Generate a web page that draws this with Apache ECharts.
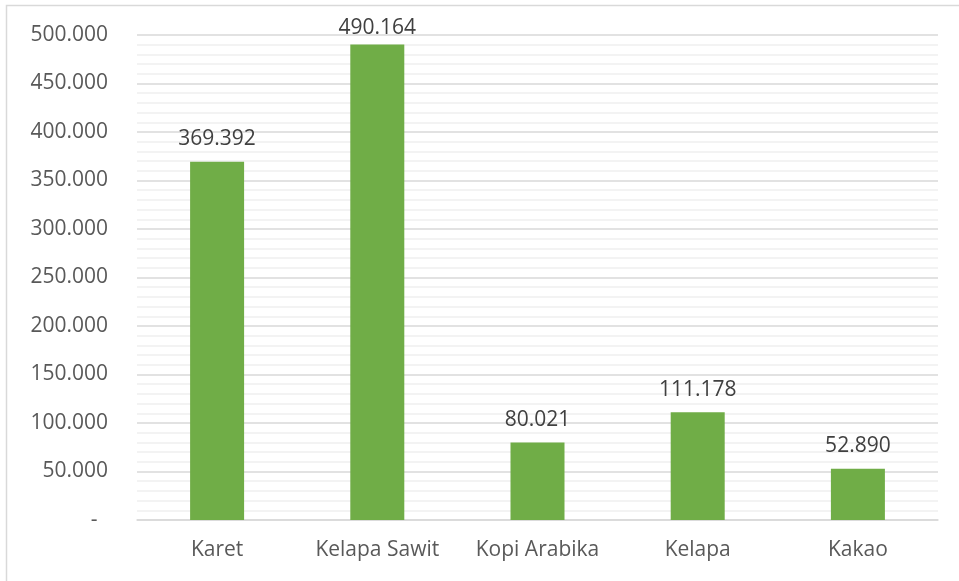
<!DOCTYPE html>
<html><head><meta charset="utf-8">
<script src="https://cdn.jsdelivr.net/npm/echarts@6/dist/echarts.min.js"></script>
<style>html,body{margin:0;padding:0;background:#fff;}#c{width:959px;height:581px;}</style>
</head><body><div id="c"></div>
<script>
const categories = ['Karet', 'Kelapa Sawit', 'Kopi Arabika', 'Kelapa', 'Kakao'];
const values = [369392, 490164, 80021, 111178, 52890];
const yTicks = [0, 50000, 100000, 150000, 200000, 250000, 300000, 350000, 400000, 450000, 500000];

function fmt(v) {
  if (v === 0) return '-\u2002';
  return String(Math.round(v)).replace(/\B(?=(\d{3})+(?!\d))/g, '.');
}
const yMax = yTicks[yTicks.length - 1];
const chart = echarts.init(document.getElementById('c'));
const font = "'Open Sans', 'Noto Sans', sans-serif";
// labels that would leave the plot area sit closer to their bar (as in the source)
const barData = values.map(v => v > yMax * 0.95 ? { value: v, label: { distance: 6 } } : v);
chart.setOption({
  animation: false,
  graphic: [{
    type: 'rect', shape: { x: 6.5, y: 5.5, width: 960, height: 600 },
    style: { fill: 'none', stroke: '#d9d9d9', lineWidth: 1.5 }, silent: true, z: -1
  }],
  grid: { left: 137, right: 21, top: 35, bottom: 61 },
  xAxis: {
    type: 'category', data: categories,
    axisLine: { lineStyle: { color: '#d9d9d9', width: 1.5 } },
    axisTick: { show: false },
    axisLabel: { interval: 0, hideOverlap: false, color: '#595959', fontSize: 21, fontFamily: font, margin: 20 }
  },
  yAxis: {
    type: 'value', min: yTicks[0], max: yMax, interval: 50000,
    axisLine: { show: false }, axisTick: { show: false },
    axisLabel: { color: '#595959', fontSize: 21, fontFamily: font, margin: 29, formatter: fmt },
    splitLine: { lineStyle: { color: '#d9d9d9', width: 1.5 } },
    minorTick: { show: false, splitNumber: 5 },
    minorSplitLine: { show: true, lineStyle: { color: '#efefef', width: 1.5 } }
  },
  series: [{
    type: 'bar', data: barData, barWidth: 54,
    itemStyle: { color: '#70ad47' },
    label: { show: true, position: 'top', distance: 12, color: '#404040', fontSize: 21, fontFamily: font, formatter: p => fmt(p.value) }
  }]
});
</script></body></html>
